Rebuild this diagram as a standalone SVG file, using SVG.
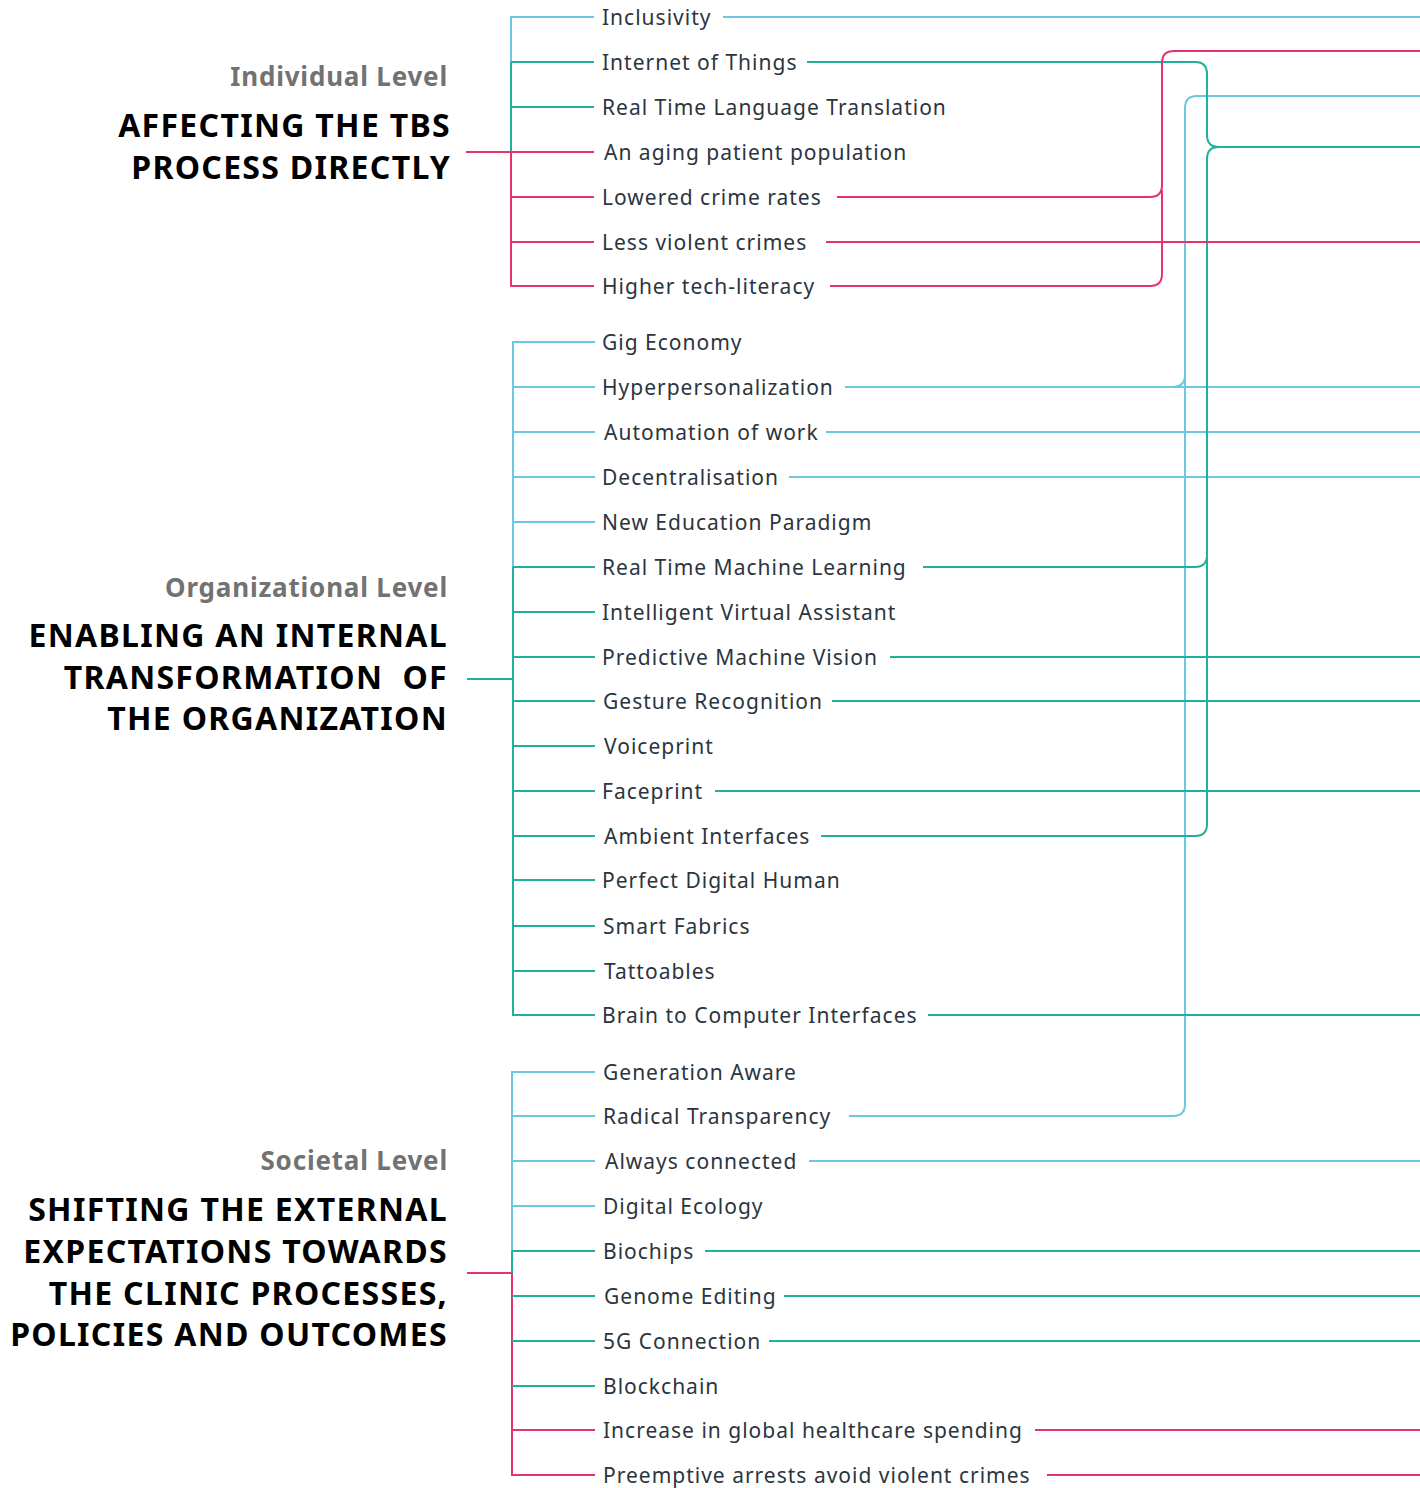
<svg xmlns="http://www.w3.org/2000/svg" width="1420" height="1488" viewBox="0 0 1420 1488">
  <style>
    .bl { stroke: #6cc7e1; }
    .tl { stroke: #1fb19b; }
    .rd { stroke: #e8336a; }
    line, path { fill: none; stroke-width: 2; }
    .item { font-family: "Noto Sans", "DejaVu Sans", sans-serif; font-size: 21px; fill: #2b3540; letter-spacing: 1px; }
    .level { font-family: "Noto Sans", "Liberation Sans", sans-serif; font-size: 26px; font-weight: 700; fill: #727272; text-anchor: end; letter-spacing: 0.8px; }
    .head { font-family: "Noto Sans", "Liberation Sans", sans-serif; font-size: 32px; font-weight: 700; fill: #000; text-anchor: end; letter-spacing: 1.3px; white-space: pre; }
  </style>

  <!-- Level headings -->
  <g id="individual-heading">
    <text class="level" x="448" y="86">Individual Level</text>
    <text class="head" x="451" y="137">AFFECTING THE TBS</text>
    <text class="head" x="451" y="179">PROCESS DIRECTLY</text>
  </g>
  <g id="organizational-heading">
    <text class="level" x="448" y="597">Organizational Level</text>
    <text class="head" x="448" y="647">ENABLING AN INTERNAL</text>
    <text class="head" x="448" y="689" xml:space="preserve">TRANSFORMATION  OF</text>
    <text class="head" x="448" y="730">THE ORGANIZATION</text>
  </g>
  <g id="societal-heading">
    <text class="level" x="448" y="1170">Societal Level</text>
    <text class="head" x="448" y="1221">SHIFTING THE EXTERNAL</text>
    <text class="head" x="448" y="1263">EXPECTATIONS TOWARDS</text>
    <text class="head" x="448" y="1305">THE CLINIC PROCESSES,</text>
    <text class="head" x="448" y="1346">POLICIES AND OUTCOMES</text>
  </g>

  <!-- Connectors: brackets, branches and outgoing lines -->
  <g id="connectors">
    <!-- Individual bracket -->
    <line class="rd" x1="466" y1="152" x2="511" y2="152"/>
    <line class="bl" x1="511" y1="17" x2="511" y2="62"/>
    <line class="tl" x1="511" y1="62" x2="511" y2="152"/>
    <line class="rd" x1="511" y1="152" x2="511" y2="287"/>
    <line class="bl" x1="510" y1="17" x2="594" y2="17"/>
    <line class="tl" x1="511" y1="62" x2="594" y2="62"/>
    <line class="tl" x1="511" y1="107" x2="594" y2="107"/>
    <line class="rd" x1="511" y1="152" x2="594" y2="152"/>
    <line class="rd" x1="511" y1="197" x2="594" y2="197"/>
    <line class="rd" x1="511" y1="242" x2="594" y2="242"/>
    <line class="rd" x1="510" y1="286" x2="594" y2="286"/>

    <!-- Organizational bracket -->
    <line class="tl" x1="467" y1="679" x2="513" y2="679"/>
    <line class="bl" x1="513" y1="342" x2="513" y2="567"/>
    <line class="tl" x1="513" y1="567" x2="513" y2="1016"/>
    <line class="bl" x1="512" y1="342" x2="595" y2="342"/>
    <line class="bl" x1="513" y1="387" x2="595" y2="387"/>
    <line class="bl" x1="513" y1="432" x2="595" y2="432"/>
    <line class="bl" x1="513" y1="477" x2="595" y2="477"/>
    <line class="bl" x1="513" y1="522" x2="595" y2="522"/>
    <line class="tl" x1="513" y1="567" x2="595" y2="567"/>
    <line class="tl" x1="513" y1="612" x2="595" y2="612"/>
    <line class="tl" x1="513" y1="657" x2="595" y2="657"/>
    <line class="tl" x1="513" y1="701" x2="595" y2="701"/>
    <line class="tl" x1="513" y1="746" x2="595" y2="746"/>
    <line class="tl" x1="513" y1="791" x2="595" y2="791"/>
    <line class="tl" x1="513" y1="836" x2="595" y2="836"/>
    <line class="tl" x1="513" y1="880" x2="595" y2="880"/>
    <line class="tl" x1="513" y1="926" x2="595" y2="926"/>
    <line class="tl" x1="513" y1="971" x2="595" y2="971"/>
    <line class="tl" x1="512" y1="1015" x2="595" y2="1015"/>

    <!-- Societal bracket -->
    <line class="rd" x1="467" y1="1273" x2="512" y2="1273"/>
    <line class="bl" x1="512" y1="1072" x2="512" y2="1251"/>
    <line class="tl" x1="512" y1="1251" x2="512" y2="1273"/>
    <line class="rd" x1="512" y1="1273" x2="512" y2="1476"/>
    <line class="bl" x1="511" y1="1072" x2="595" y2="1072"/>
    <line class="bl" x1="512" y1="1116" x2="595" y2="1116"/>
    <line class="bl" x1="512" y1="1161" x2="595" y2="1161"/>
    <line class="bl" x1="512" y1="1206" x2="595" y2="1206"/>
    <line class="tl" x1="512" y1="1251" x2="595" y2="1251"/>
    <line class="tl" x1="512" y1="1296" x2="595" y2="1296"/>
    <line class="tl" x1="512" y1="1341" x2="595" y2="1341"/>
    <line class="tl" x1="512" y1="1386" x2="595" y2="1386"/>
    <line class="rd" x1="512" y1="1430" x2="595" y2="1430"/>
    <line class="rd" x1="511" y1="1475" x2="595" y2="1475"/>

    <!-- Straight outgoing lines -->
    <line class="bl" x1="723" y1="17" x2="1420" y2="17"/>
    <line class="bl" x1="845" y1="387" x2="1420" y2="387"/>
    <line class="bl" x1="826" y1="432" x2="1420" y2="432"/>
    <line class="bl" x1="789" y1="477" x2="1420" y2="477"/>
    <line class="bl" x1="809" y1="1161" x2="1420" y2="1161"/>

    <!-- Merged light-blue route -->
    <path class="bl" d="M849,1116 H1173 Q1185,1116 1185,1104 V108 Q1185,96 1197,96 H1420"/>
    <path class="bl" d="M1172,387 Q1185,387 1185,375"/>

    <!-- Merged teal route -->
    <line class="tl" x1="890" y1="657" x2="1420" y2="657"/>
    <line class="tl" x1="832" y1="701" x2="1420" y2="701"/>
    <line class="tl" x1="715" y1="791" x2="1420" y2="791"/>
    <line class="tl" x1="928" y1="1015" x2="1420" y2="1015"/>
    <line class="tl" x1="705" y1="1251" x2="1420" y2="1251"/>
    <line class="tl" x1="784" y1="1296" x2="1420" y2="1296"/>
    <line class="tl" x1="769" y1="1341" x2="1420" y2="1341"/>
    <path class="tl" d="M807,62 H1195 Q1207,62 1207,74 V135 Q1207,147 1219,147 H1420"/>
    <path class="tl" d="M1219,147 Q1207,147 1207,159 V824 Q1207,836 1195,836 H821"/>
    <path class="tl" d="M923,567 H1195 Q1207,567 1207,555"/>

    <!-- Merged red route -->
    <line class="rd" x1="826" y1="242" x2="1420" y2="242"/>
    <line class="rd" x1="1035" y1="1430" x2="1420" y2="1430"/>
    <line class="rd" x1="1047" y1="1475" x2="1420" y2="1475"/>
    <path class="rd" d="M837,197 H1150 Q1162,197 1162,185 V63 Q1162,51 1174,51 H1420"/>
    <path class="rd" d="M830,286 H1150 Q1162,286 1162,274 V190"/>
  </g>

  <!-- Individual level items -->
  <g id="individual-items">
    <text class="item" x="602" y="25">Inclusivity</text>
    <text class="item" x="602" y="70">Internet of Things</text>
    <text class="item" x="602" y="115">Real Time Language Translation</text>
    <text class="item" x="604" y="160">An aging patient population</text>
    <text class="item" x="602" y="205">Lowered crime rates</text>
    <text class="item" x="602" y="250">Less violent crimes</text>
    <text class="item" x="602" y="294">Higher tech-literacy</text>
  </g>

  <!-- Organizational level items -->
  <g id="organizational-items">
    <text class="item" x="602" y="350">Gig Economy</text>
    <text class="item" x="602" y="395">Hyperpersonalization</text>
    <text class="item" x="604" y="440">Automation of work</text>
    <text class="item" x="602" y="485">Decentralisation</text>
    <text class="item" x="602" y="530">New Education Paradigm</text>
    <text class="item" x="602" y="575">Real Time Machine Learning</text>
    <text class="item" x="602" y="620">Intelligent Virtual Assistant</text>
    <text class="item" x="602" y="665">Predictive Machine Vision</text>
    <text class="item" x="603" y="709">Gesture Recognition</text>
    <text class="item" x="604" y="754">Voiceprint</text>
    <text class="item" x="602" y="799">Faceprint</text>
    <text class="item" x="604" y="844">Ambient Interfaces</text>
    <text class="item" x="602" y="888">Perfect Digital Human</text>
    <text class="item" x="603" y="934">Smart Fabrics</text>
    <text class="item" x="604" y="979">Tattoables</text>
    <text class="item" x="602" y="1023">Brain to Computer Interfaces</text>
  </g>

  <!-- Societal level items -->
  <g id="societal-items">
    <text class="item" x="603" y="1080">Generation Aware</text>
    <text class="item" x="603" y="1124">Radical Transparency</text>
    <text class="item" x="605" y="1169">Always connected</text>
    <text class="item" x="603" y="1214">Digital Ecology</text>
    <text class="item" x="603" y="1259">Biochips</text>
    <text class="item" x="604" y="1304">Genome Editing</text>
    <text class="item" x="603" y="1349">5G Connection</text>
    <text class="item" x="603" y="1394">Blockchain</text>
    <text class="item" x="603" y="1438">Increase in global healthcare spending</text>
    <text class="item" x="603" y="1483">Preemptive arrests avoid violent crimes</text>
  </g>
</svg>
